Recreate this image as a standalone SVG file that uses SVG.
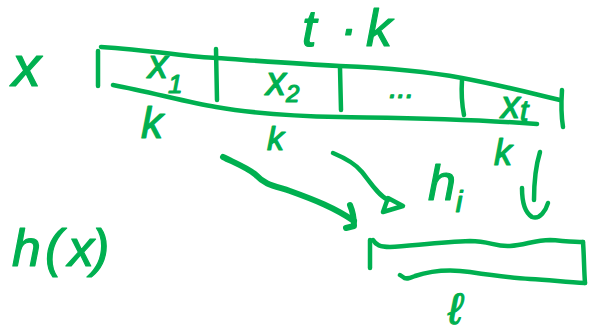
<svg xmlns="http://www.w3.org/2000/svg" width="596" height="334" viewBox="0 0 596 334">
<style>
.s{fill:none;stroke:#00b050;stroke-width:4.5;stroke-linecap:round;stroke-linejoin:round}
.b{stroke-width:6}
.t{fill:#00b050;stroke:#00b050;stroke-width:1.2;stroke-linejoin:round;font-family:"Liberation Sans",Arial,sans-serif;font-style:italic}
</style>
<rect width="596" height="334" fill="#ffffff"/>
<g id="label-x">
<text class="t" x="12" y="86" font-size="58">x</text>
</g>
<g id="sequence">
<path class="s" d="M98,51 L98,86"/>
<path class="s" d="M101,47 C150,50 190,57 216,58 C260,61 300,64 340,66 C390,68 430,72 462,78 C500,85 530,93 560,100"/>
<path class="s" d="M113,85 C150,92 190,103 216,107 C250,113 290,116 340,117 C400,118 460,118 537,124"/>
<path class="s" d="M216,49 L217,100"/>
<path class="s" d="M340,68 L341,110"/>
<path class="s" d="M462,80 C461,95 462,105 464,115"/>
<path class="s" d="M562,90 C561,105 561,115 563,127"/>
<text class="t" x="148" y="78" font-size="40">x<tspan font-size="26" dy="15">1</tspan></text>
<text class="t" x="266" y="95" font-size="40">x<tspan font-size="24" dy="7">2</tspan></text>
<text class="t" x="389" y="98" font-size="30">...</text>
<text class="t" x="501" y="118" font-size="38">x<tspan font-size="30" dy="3">t</tspan></text>
<text class="t" x="302 340 366" y="46" font-size="52">t·k</text>
<text class="t" x="141" y="138" font-size="44">k</text>
<text class="t" x="267" y="150" font-size="34">k</text>
<text class="t" x="494" y="165" font-size="36">k</text>
</g>
<g id="hidden-block">
<path class="s" d="M370,240 L370,268"/>
<path class="s" d="M373,240 C376,245 380,247 390,247 C410,246 440,242 470,241 C490,241 495,247 510,246 C525,245 535,240 550,240 C565,241 575,242 583,242"/>
<path class="s" d="M583,242 C584,255 584,270 585,283"/>
<path class="s" d="M585,283 C565,282 550,280 530,279 C510,278 490,275 470,272 C450,269 430,271 415,276 C410,278 406,280 403,277 L400,275"/>
<text class="t" x="428" y="200" font-size="50">h<tspan font-size="30" dy="12">i</tspan></text>
<text class="t" x="448" y="324" font-size="44" font-family="DejaVu Sans,sans-serif">ℓ</text>
</g>
<g id="label-hx">
<text class="t" x="12 45 68 92" y="266" font-size="52">h(x)</text>
</g>
<g id="connectors">
<path class="s b" d="M223,157 C235,163 248,168 256,175 C265,185 275,186 290,191 C315,200 335,208 354,221"/>
<path class="s b" d="M350,205 C353,212 354,218 354,226 L346,228"/>
<path class="s" d="M333,153 C345,158 355,163 362,172 C370,182 378,195 388,200"/>
<path class="s" d="M388,198 L403,206 L383,212 Z"/>
<path class="s" d="M540,152 C536,165 534,185 534,200"/>
<path class="s" d="M522,188 C522,200 524,212 532,217 C540,220 546,210 548,203"/>
</g>
</svg>
